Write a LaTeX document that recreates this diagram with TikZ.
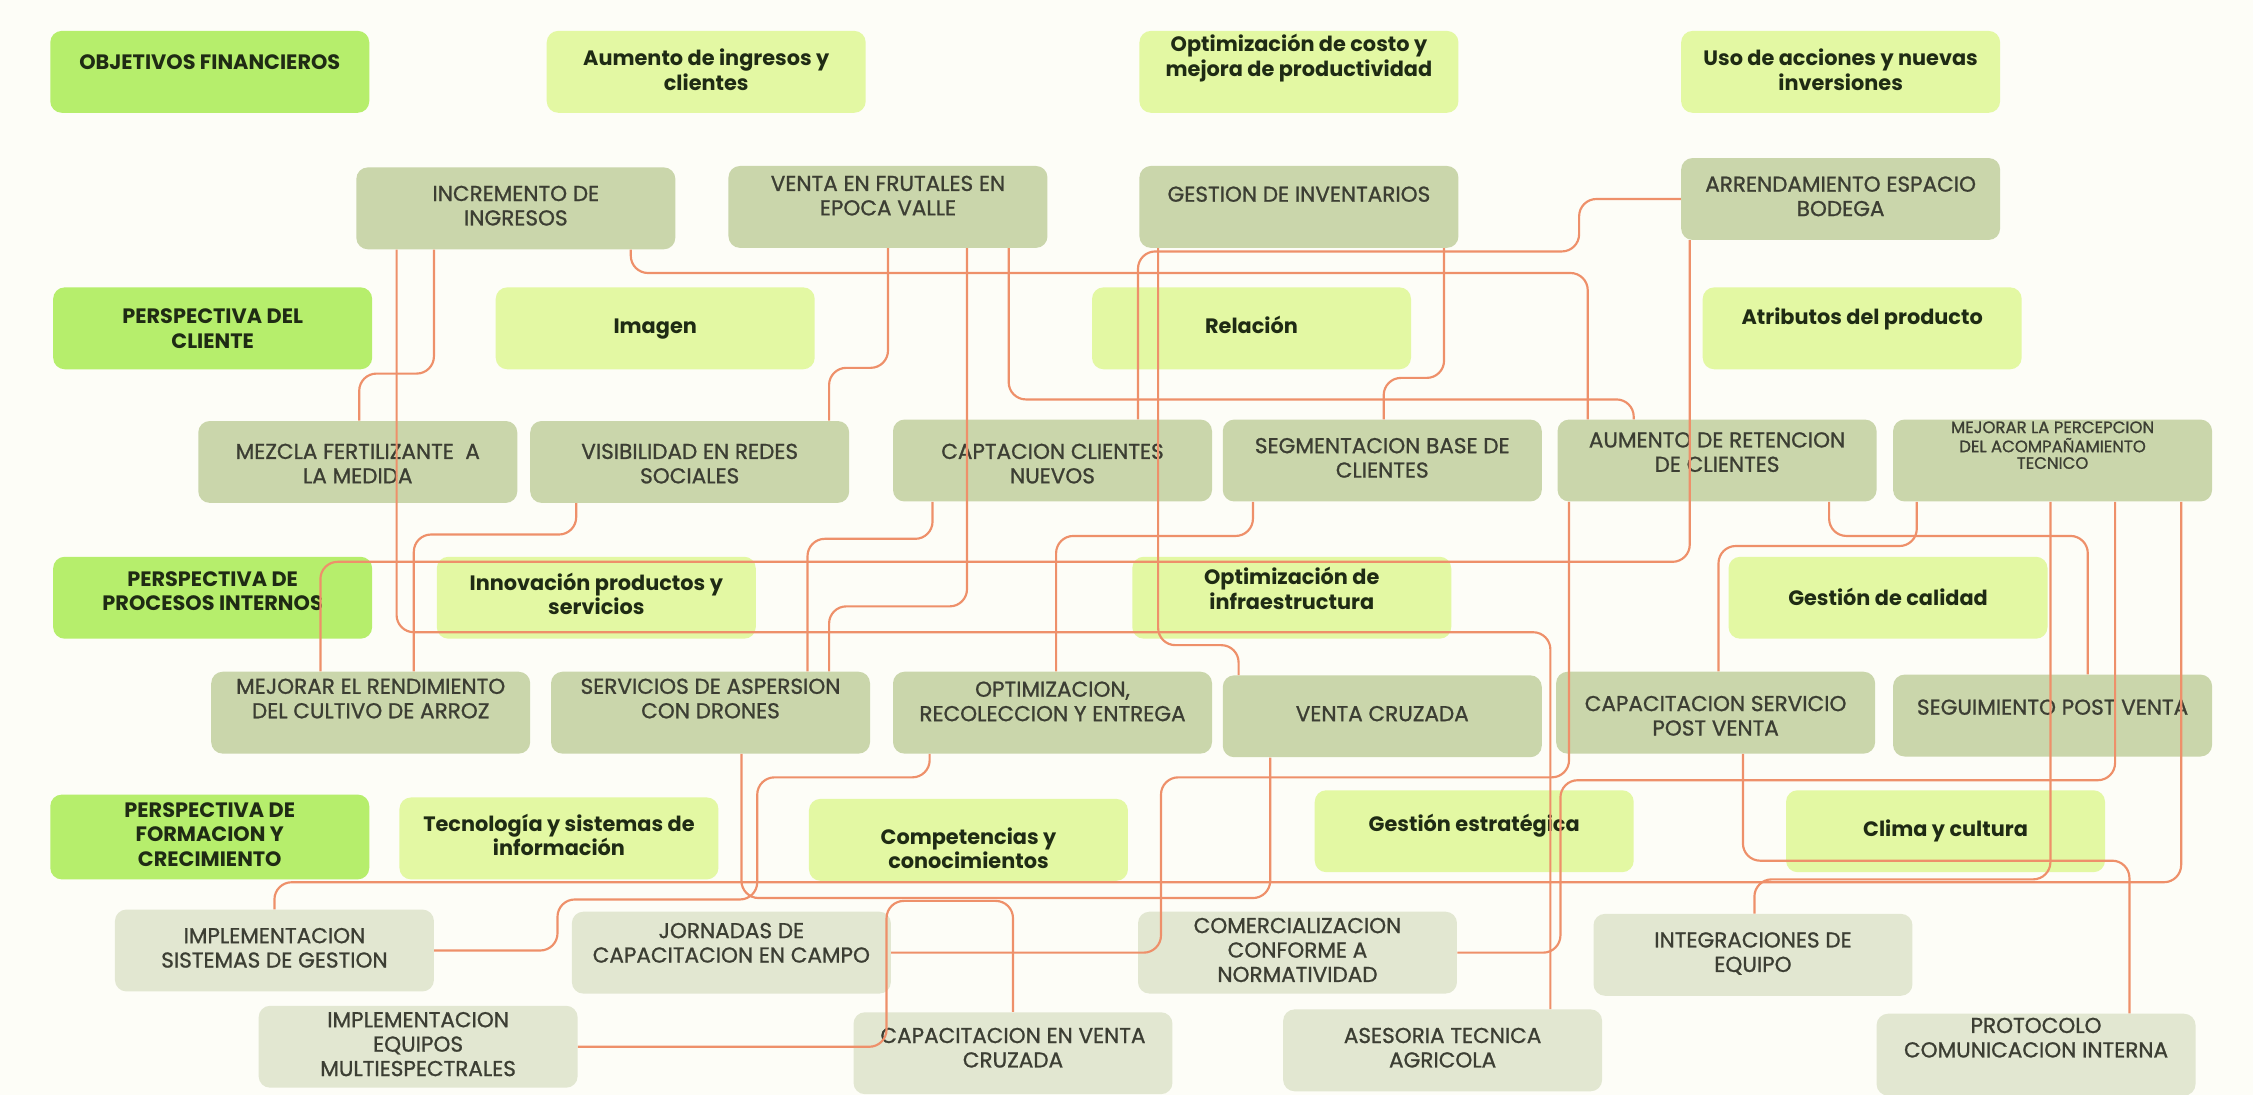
\documentclass[tikz,border=0pt]{standalone}
\usepackage{fontspec}
\setmainfont{Poppins}
\newfontfamily\actfont[FakeBold=1]{Poppins}
\usepackage{tikz}

\definecolor{bgpaper}{HTML}{FDFDF7}
\definecolor{hdrgreen}{HTML}{B6EE6C}
\definecolor{objlime}{HTML}{E3F8A3}
\definecolor{actsage}{HTML}{CAD6AB}
\definecolor{actpale}{HTML}{E2E7D1}
\definecolor{linkorange}{HTML}{EE906A}
\definecolor{inkdark}{HTML}{1F2B14}
\definecolor{inkgray}{HTML}{3C3E33}

% texto del recuadro, desplazado en vertical sin mover el recuadro
\newcommand{\boxtxt}[2]{\raisebox{#1}[\height][\depth]{\begin{tabular}{@{}c@{}}#2\end{tabular}}}

\begin{document}
\begin{tikzpicture}[
    x=1pt, y=-1pt,
    box/.style={rounded corners=8pt, minimum width=222pt, minimum height=57pt, inner sep=2pt},
    hdr/.style={box, fill=hdrgreen, text=inkdark, font=\bfseries\fontsize{14.5}{17}\selectfont},
    obj/.style={box, fill=objlime, text=inkdark, font=\bfseries\fontsize{14.5}{17}\selectfont},
    act/.style={box, fill=actsage, text=inkgray, font=\actfont\fontsize{15}{17}\selectfont},
    lrn/.style={act, fill=actpale},
    small/.style={font=\actfont\fontsize{11.5}{11.5}\selectfont},
    link/.style={draw=linkorange, line width=1.5pt, rounded corners=12pt},
  ]
    \fill[bgpaper] (0,0) rectangle (1568,762);
    \useasboundingbox (0,0) rectangle (1568,762);
    % ===== objetivos financieros (fila 0 y 1) =====
    \node[hdr] (OBJ) at (146,50)    {\boxtxt{5pt}{OBJETIVOS FINANCIEROS}};
    \node[obj] (AUM) at (491.5,50)  {\boxtxt{-1pt}{Aumento de ingresos y\\clientes}};
    \node[obj] (OPC) at (904,50)    {\boxtxt{9pt}{Optimización de costo y\\mejora de productividad}};
    \node[obj] (USO) at (1281,50)   {\boxtxt{-1pt}{Uso de acciones y nuevas\\inversiones}};
    \node[act] (INC) at (359,145)   {\boxtxt{0pt}{INCREMENTO DE\\INGRESOS}};
    \node[act] (VEF) at (618,144)   {\boxtxt{6pt}{VENTA EN FRUTALES EN\\EPOCA VALLE}};
    \node[act] (GDI) at (904,144)   {\boxtxt{7pt}{GESTION DE INVENTARIOS}};
    \node[act] (ARR) at (1281,138.5) {\boxtxt{0pt}{ARRENDAMIENTO ESPACIO\\BODEGA}};
    % ===== perspectiva del cliente =====
    \node[hdr] (PDC) at (148,228.5)  {\boxtxt{-2pt}{PERSPECTIVA DEL\\CLIENTE}};
    \node[obj] (IMG) at (456,228.5)  {\boxtxt{0pt}{Imagen}};
    \node[obj] (REL) at (871,228.5)  {\boxtxt{0pt}{Relación}};
    \node[obj] (ATR) at (1296,228.5) {\boxtxt{6pt}{Atributos del producto}};
    \node[act] (MEZ) at (249,321.5)  {\boxtxt{-3pt}{MEZCLA FERTILIZANTE\ \ A\\LA MEDIDA}};
    \node[act] (VIS) at (480,321.5)  {\boxtxt{-3pt}{VISIBILIDAD EN REDES\\SOCIALES}};
    \node[act] (CAP) at (732.5,320.5) {\boxtxt{-4pt}{CAPTACION CLIENTES\\NUEVOS}};
    \node[act] (SEG) at (962,320.5)  {\boxtxt{0pt}{SEGMENTACION BASE DE\\CLIENTES}};
    \node[act] (AUR) at (1195,320.5) {\boxtxt{4pt}{AUMENTO DE RETENCION\\DE CLIENTES}};
    \node[act, small] (MEJ) at (1428.5,320.5) {\boxtxt{9pt}{MEJORAR LA PERCEPCION\\DEL ACOMPAÑAMIENTO\\TECNICO}};
    % ===== procesos internos =====
    \node[hdr] (PPI) at (148,416)    {\boxtxt{3pt}{PERSPECTIVA DE\\PROCESOS INTERNOS}};
    \node[obj] (INN) at (415,416)    {\boxtxt{0pt}{Innovación productos y\\servicios}};
    \node[obj] (OIN) at (899,416)    {\boxtxt{4pt}{Optimización de\\infraestructura}};
    \node[obj] (GCA) at (1314,416)   {\boxtxt{-2pt}{Gestión de calidad}};
    \node[act] (MRE) at (258,496)    {\boxtxt{8pt}{MEJORAR EL RENDIMIENTO\\DEL CULTIVO DE ARROZ}};
    \node[act] (SAD) at (494.5,496)  {\boxtxt{8pt}{SERVICIOS DE ASPERSION\\CON DRONES}};
    \node[act] (ORE) at (732.5,496)  {\boxtxt{6pt}{OPTIMIZACION,\\RECOLECCION Y ENTREGA}};
    \node[act] (VCR) at (962,498.5)  {\boxtxt{0pt}{VENTA CRUZADA}};
    \node[act] (CSP) at (1194,496)   {\boxtxt{-4pt}{CAPACITACION SERVICIO\\POST VENTA}};
    \node[act] (SPV) at (1428.5,498) {\boxtxt{4pt}{SEGUIMIENTO POST VENTA}};
    % ===== formacion y crecimiento =====
    \node[hdr, minimum height=59pt] (PFC) at (146,582.5) {\boxtxt{0pt}{PERSPECTIVA DE\\FORMACION Y\\CRECIMIENTO}};
    \node[obj] (TEC) at (389,583.5)  {\boxtxt{0pt}{Tecnología y sistemas de\\información}};
    \node[obj] (COM) at (674,584.5)  {\boxtxt{-8pt}{Competencias y\\conocimientos}};
    \node[obj] (GES) at (1026,578.5) {\boxtxt{3pt}{Gestión estratégica}};
    \node[obj] (CLI) at (1354,578.5) {\boxtxt{0pt}{Clima y cultura}};
    \node[lrn] (ISG) at (191,661.5)  {\boxtxt{0pt}{IMPLEMENTACION\\SISTEMAS DE GESTION}};
    \node[lrn] (JCC) at (509,663)    {\boxtxt{5pt}{JORNADAS DE\\CAPACITACION EN CAMPO}};
    \node[lrn] (CCN) at (903,663)    {\boxtxt{0pt}{COMERCIALIZACION\\CONFORME A\\NORMATIVIDAD}};
    \node[lrn] (IEQ) at (1220,664.5) {\boxtxt{0pt}{INTEGRACIONES DE\\EQUIPO}};
    \node[lrn] (IEM) at (291,728.5)  {\boxtxt{0pt}{IMPLEMENTACION\\EQUIPOS\\MULTIESPECTRALES}};
    \node[lrn] (CVC) at (705,733)    {\boxtxt{2pt}{CAPACITACION EN VENTA\\CRUZADA}};
    \node[lrn] (ATA) at (1004,731)   {\boxtxt{0pt}{ASESORIA TECNICA\\AGRICOLA}};
    \node[lrn] (PCI) at (1417,734)   {\boxtxt{10pt}{PROTOCOLO\\COMUNICACION INTERNA}};

    % ===== conexiones (fila 1 -> fila 3) =====
    \draw[link] (INC.south -| 302,0) -- (302,260) -- (250,260) -- (MEZ.north -| 250,0);
    \draw[link] (INC.south -| 439,0) -- (439,190) -- (1105,190) -- (AUR.north -| 1105,0);
    \draw[link] (VEF.south -| 618,0) -- (618,256) -- (577,256) -- (VIS.north -| 577,0);
    \draw[link] (VEF.south -| 702,0) -- (702,278) -- (1137,278) -- (AUR.north -| 1137,0);
    \draw[link] (GDI.south -| 1005,0) -- (1005,263) -- (963,263) -- (SEG.north -| 963,0);
    \draw[link] (ARR.west) -- (1099,138.5) -- (1099,175) -- (792,175) -- (CAP.north -| 792,0);
    % ===== conexiones largas (fila 1 -> fila 5 y 8) =====
    \draw[link] (INC.south -| 276,0) -- (276,440) -- (1079,440) -- (ATA.north -| 1079,0);
    \draw[link] (VEF.south -| 673,0) -- (673,422) -- (577,422) -- (SAD.north -| 577,0);
    \draw[link] (GDI.south -| 806,0) -- (806,449) -- (862,449) -- (VCR.north -| 862,0);
    \draw[link] (ARR.south -| 1176,0) -- (1176,391) -- (223,391) -- (MRE.north -| 223,0);
    % ===== conexiones (fila 3 -> fila 5) =====
    \draw[link] (VIS.south -| 401,0) -- (401,372) -- (288,372) -- (MRE.north -| 288,0);
    \draw[link] (CAP.south -| 649,0) -- (649,375) -- (562,375) -- (SAD.north -| 562,0);
    \draw[link] (SEG.south -| 872,0) -- (872,373) -- (735,373) -- (ORE.north -| 735,0);
    \draw[link] (AUR.south -| 1273,0) -- (1273,373) -- (1453,373) -- (SPV.north -| 1453,0);
    \draw[link] (MEJ.south -| 1334,0) -- (1334,380) -- (1196,380) -- (CSP.north -| 1196,0);
    % ===== conexiones hacia formacion (filas 7 y 8) =====
    \draw[link] (MEJ.south -| 1427,0) -- (1427,612) -- (1221,612) -- (IEQ.north -| 1221,0);
    \draw[link] (MEJ.south -| 1518,0) -- (1518,614) -- (191,614) -- (ISG.north -| 191,0);
    \draw[link] (MEJ.south -| 1472,0) -- (1472,543) -- (1086,543) -- (1086,663) -- (CCN.east);
    \draw[link] (AUR.south -| 1092,0) -- (1092,541) -- (808,541) -- (808,663) -- (JCC.east);
    \draw[link] (CSP.south -| 1213,0) -- (1213,599) -- (1482,599) -- (PCI.north -| 1482,0);
    \draw[link] (SAD.south -| 516,0) -- (516,625) -- (884,625) -- (VCR.south -| 884,0);
    \draw[link] (ORE.south -| 647,0) -- (647,541) -- (527,541) -- (527,626) -- (388,626) -- (388,661.5) -- (ISG.east);
    \draw[link] (IEM.east) -- (617,728.5) -- (617,627) -- (705,627) -- (CVC.north);
\end{tikzpicture}
\end{document}
